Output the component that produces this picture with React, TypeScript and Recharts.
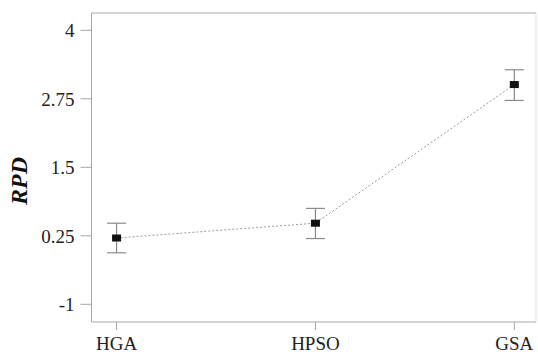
import { LineChart, Line, XAxis, YAxis, ErrorBar, ReferenceLine } from 'recharts';

const methods = ['HGA', 'HPSO', 'GSA'];
const rpdMean = [0.21, 0.48, 3.01];
const rpdLow = [-0.06, 0.2, 2.72];
const rpdHigh = [0.48, 0.75, 3.28];
const yTicks = [-1, 0.25, 1.5, 2.75, 4];

const data = methods.map((m, i) => ({
  idx: i,
  name: m,
  rpd: rpdMean[i],
  err: [rpdMean[i] - rpdLow[i], rpdHigh[i] - rpdMean[i]],
}));

const Y_MIN = -1.323;
const Y_MAX = 4.316;
const X_MIN = -0.126;
const X_MAX = 2.109;

const axisColor = '#a6a6a6';
const font = 'Liberation Serif';

function SquareDot(props: any) {
  const { cx, cy } = props;
  if (cx == null || cy == null) return null;
  return <rect x={cx - 4.5} y={cy - 3.5} width={9} height={7} fill="#111" />;
}

export default function App() {
  return (
    <div style={{ position: 'absolute', left: 0, top: 0, width: 538, height: 354, background: '#fff', fontFamily: font }}>
      <LineChart width={538} height={354} data={data} margin={{ top: 13, right: 2, bottom: 2, left: 0 }}>
        <XAxis
          dataKey="idx"
          type="number"
          domain={[X_MIN, X_MAX]}
          ticks={[0, 1, 2]}
          tickFormatter={(v: number) => methods[v] ?? ''}
          stroke={axisColor}
          height={30}
          tickSize={8}
          tickMargin={7}
          tick={{ fill: '#222', fontSize: 19, fontFamily: font }}
          allowDataOverflow
        />
        <YAxis
          type="number"
          domain={[Y_MIN, Y_MAX]}
          ticks={yTicks}
          width={91.5}
          stroke={axisColor}
          tickSize={11}
          tickMargin={6}
          tick={{ fill: '#222', fontSize: 19, fontFamily: font }}
          allowDataOverflow
          label={{
            content: () => (
              <text
                transform="translate(27,181) rotate(-90)"
                textAnchor="middle"
                fontFamily={font}
                fontSize={24}
                fontWeight="bold"
                fontStyle="italic"
                fill="#111"
              >
                RPD
              </text>
            ),
          }}
        />
        <ReferenceLine y={Y_MAX} stroke={axisColor} ifOverflow="extendDomain" />
        <ReferenceLine x={X_MAX} stroke="#e2e2e2" ifOverflow="extendDomain" />
        <Line
          dataKey="rpd"
          type="linear"
          stroke="#9a9a9a"
          strokeWidth={1}
          strokeDasharray="2 2"
          dot={<SquareDot />}
          activeDot={false}
          isAnimationActive={false}
        >
          <ErrorBar dataKey="err" width={9.5} stroke="#8a8a8a" strokeWidth={1.2} direction="y" />
        </Line>
      </LineChart>
    </div>
  );
}
